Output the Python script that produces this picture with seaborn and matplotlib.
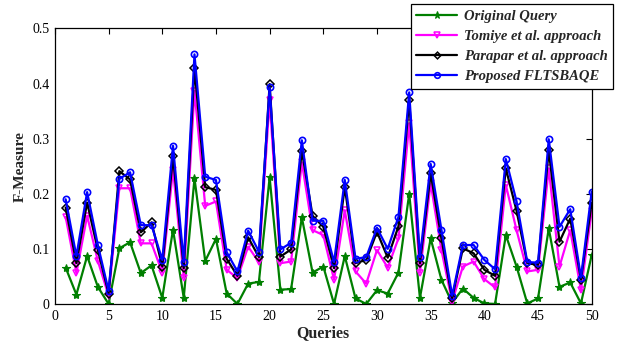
import numpy as np
import pandas as pd
import matplotlib
matplotlib.use("Agg")
import matplotlib.pyplot as plt
import seaborn as sns

queries = list(range(1, 51))
original = [0.066, 0.017, 0.087, 0.031, 0.000, 0.101, 0.112, 0.056, 0.070, 0.011,
            0.135, 0.011, 0.228, 0.078, 0.118, 0.019, 0.000, 0.037, 0.040, 0.230,
            0.026, 0.027, 0.157, 0.057, 0.068, 0.000, 0.087, 0.010, 0.000, 0.025,
            0.019, 0.057, 0.200, 0.011, 0.119, 0.044, 0.002, 0.028, 0.011, 0.001,
            0.000, 0.125, 0.068, 0.001, 0.010, 0.137, 0.031, 0.039, 0.001, 0.089]
tomiye = [0.158, 0.056, 0.160, 0.078, 0.015, 0.210, 0.210, 0.110, 0.110, 0.057,
          0.244, 0.048, 0.387, 0.178, 0.186, 0.062, 0.047, 0.104, 0.076, 0.370,
          0.074, 0.077, 0.257, 0.134, 0.125, 0.044, 0.170, 0.059, 0.037, 0.098,
          0.066, 0.119, 0.328, 0.057, 0.219, 0.098, 0.004, 0.068, 0.077, 0.045,
          0.030, 0.216, 0.134, 0.059, 0.062, 0.246, 0.068, 0.134, 0.025, 0.169]
parapar = [0.175, 0.074, 0.184, 0.098, 0.019, 0.241, 0.226, 0.130, 0.148, 0.068,
           0.268, 0.065, 0.428, 0.212, 0.207, 0.082, 0.051, 0.121, 0.085, 0.399,
           0.086, 0.099, 0.278, 0.160, 0.140, 0.065, 0.212, 0.074, 0.080, 0.131,
           0.084, 0.141, 0.370, 0.074, 0.237, 0.119, 0.010, 0.101, 0.092, 0.062,
           0.051, 0.246, 0.169, 0.074, 0.071, 0.279, 0.113, 0.155, 0.044, 0.184]
proposed = [0.190, 0.087, 0.203, 0.107, 0.024, 0.227, 0.239, 0.143, 0.143, 0.080,
            0.287, 0.076, 0.453, 0.231, 0.225, 0.094, 0.059, 0.133, 0.095, 0.393,
            0.099, 0.111, 0.297, 0.151, 0.151, 0.076, 0.225, 0.082, 0.085, 0.138,
            0.100, 0.158, 0.384, 0.085, 0.254, 0.135, 0.015, 0.107, 0.107, 0.080,
            0.063, 0.263, 0.186, 0.076, 0.075, 0.299, 0.140, 0.172, 0.048, 0.204]

series_names = ["Original Query", "Tomiye et al. approach",
                "Parapar et al. approach", "Proposed FLTSBAQE"]
x_ticks = [0, 5, 10, 15, 20, 25, 30, 35, 40, 45, 50]
y_ticks = [0, 0.1, 0.2, 0.3, 0.4, 0.5]
y_tick_labels = ["0", "0.1", "0.2", "0.3", "0.4", "0.5"]

sns.set_theme(style="white")
plt.rcParams['font.family'] = ['Liberation Serif', 'DejaVu Serif']

fig = plt.figure(figsize=(6.17, 3.47), dpi=100)
ax = fig.add_axes([0.089, 0.124, 0.870, 0.794])

styles = [
    dict(color="#007f00", marker="*", ms=6, mfc="#007f00", mew=0.8),
    dict(color="#ff00ff", marker="v", ms=5, mfc="none", mew=1.1),
    dict(color="#000000", marker="D", ms=3.8, mfc="none", mew=1.1),
    dict(color="#0000ff", marker="o", ms=4.5, mfc="none", mew=1.2),
]
all_vals = [original, tomiye, parapar, proposed]
for name, vals, st in zip(series_names, all_vals, styles):
    df = pd.DataFrame({"Queries": queries, "F": vals})
    sns.lineplot(data=df, x="Queries", y="F", ax=ax, color=st["color"], lw=1.6,
                 marker=st["marker"], markersize=st["ms"], markerfacecolor=st["mfc"],
                 markeredgecolor=st["color"], markeredgewidth=st["mew"], label=name,
                 legend=False)

ax.set_xlim(0, 50)
ax.set_ylim(0, 0.5)
ax.set_xticks(x_ticks)
ax.set_yticks(y_ticks)
ax.set_yticklabels(y_tick_labels)
ax.tick_params(direction="in", top=True, right=True, length=4, width=0.8,
               labelsize=10, colors="black", pad=4)
for s in ax.spines.values():
    s.set_visible(True)
    s.set_color("black")
    s.set_linewidth(0.9)
ax.set_xlabel("Queries", fontsize=11.5, fontweight="bold", labelpad=2)
ax.set_ylabel("F-Measure", fontsize=11, fontweight="bold", labelpad=4)

handles, labels = ax.get_legend_handles_labels()
leg = fig.legend(handles, labels, loc="upper right",
                 bbox_to_anchor=(613 / 617, 1 - 4 / 347), borderaxespad=0,
                 prop=dict(family="Liberation Serif", style="italic", weight="bold", size=10.5),
                 frameon=True, fancybox=False, framealpha=1, edgecolor="black",
                 handlelength=2.8, labelspacing=0.48, borderpad=0.38, handletextpad=0.45,
                 markerscale=0.9)
leg.get_frame().set_linewidth(0.9)

fig.savefig("out.png", dpi=100)
